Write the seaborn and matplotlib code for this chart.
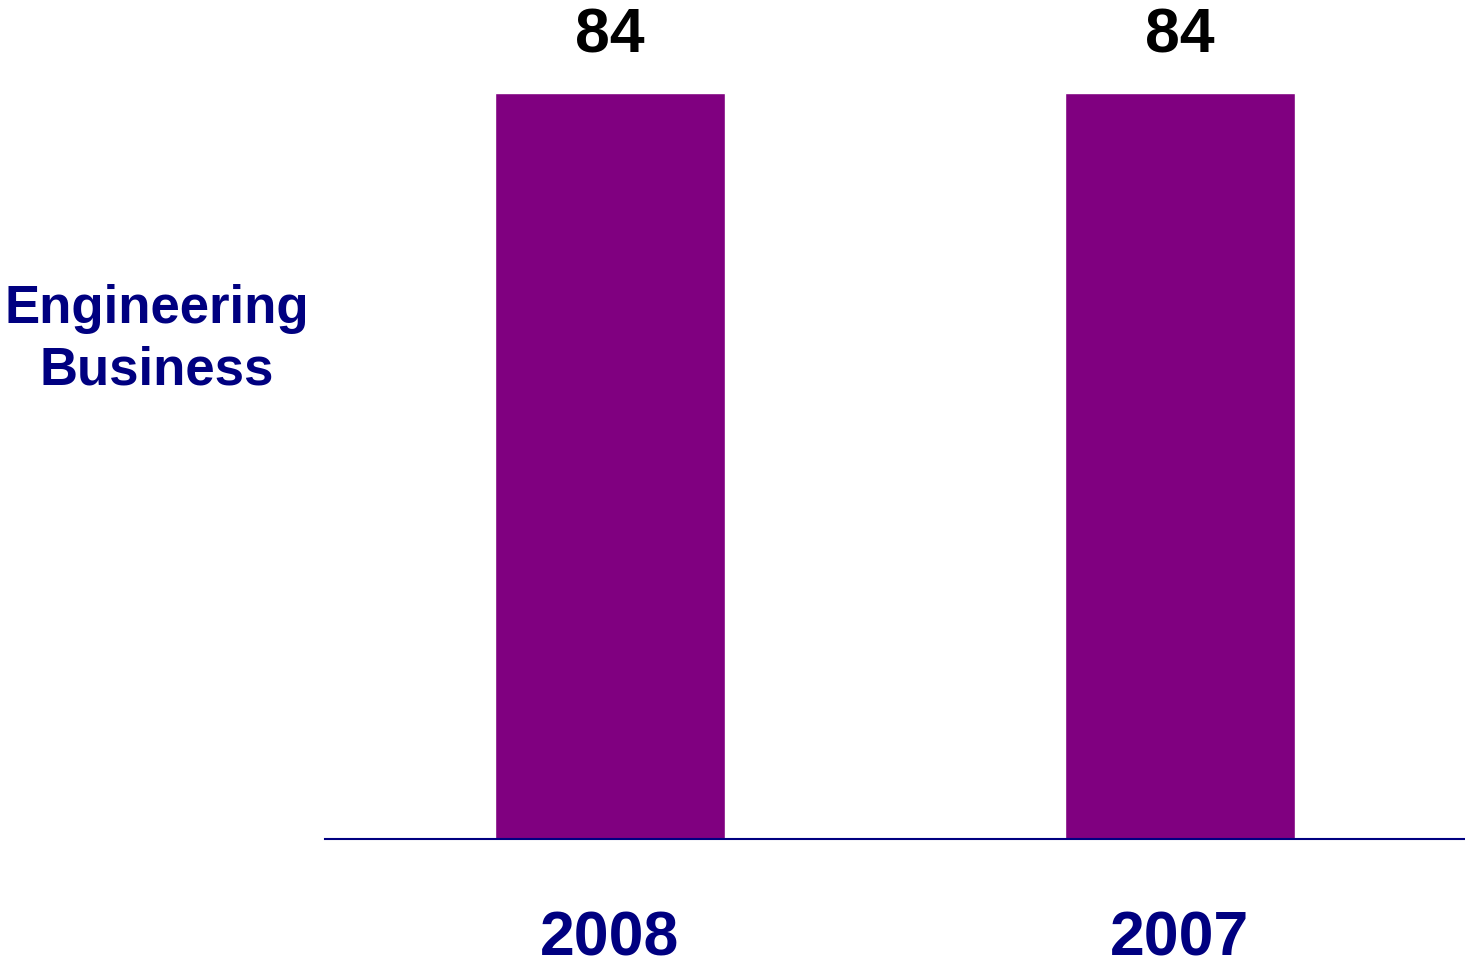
import matplotlib
matplotlib.use("Agg")
import matplotlib.pyplot as plt
import seaborn as sns
import pandas as pd

years = ["2008", "2007"]
values = [84, 84]
ylabel_text = "Engineering\nBusiness"

sns.set_theme(style="white")
plt.rcParams['font.family'] = ['Liberation Sans', 'DejaVu Sans']

df = pd.DataFrame({"year": years, "value": values})

fig = plt.figure(figsize=(14.65, 9.66), dpi=100)
ax = fig.add_axes([325/1465, 1 - 839/966, 1140/1465, 839/966])
sns.barplot(data=df, x="year", y="value", color="#800080", width=0.402, ax=ax,
            saturation=1)

ax.set_xlim(-0.5, 1.5)
ax.set_ylim(0, 84 * 839 / 746)
for s in ["top", "right", "left"]:
    ax.spines[s].set_visible(False)
ax.spines["bottom"].set_color("#000080")
ax.spines["bottom"].set_linewidth(1.5)
ax.set_yticks([])
ax.set_xlabel("")
ax.set_ylabel("")
ax.tick_params(axis="x", length=0, pad=51, labelsize=45, labelcolor="#000080")
for lbl in ax.get_xticklabels():
    lbl.set_fontweight("bold")

for c in ax.containers:
    ax.bar_label(c, labels=[str(v) for v in values], padding=20,
                 fontsize=45, fontweight="bold", color="black")

fig.text(157/1465, 1 - 340/966, ylabel_text, ha="center", va="center",
         fontsize=38, fontweight="bold", color="#000080", linespacing=1.3)

fig.savefig("out.png", dpi=100)
